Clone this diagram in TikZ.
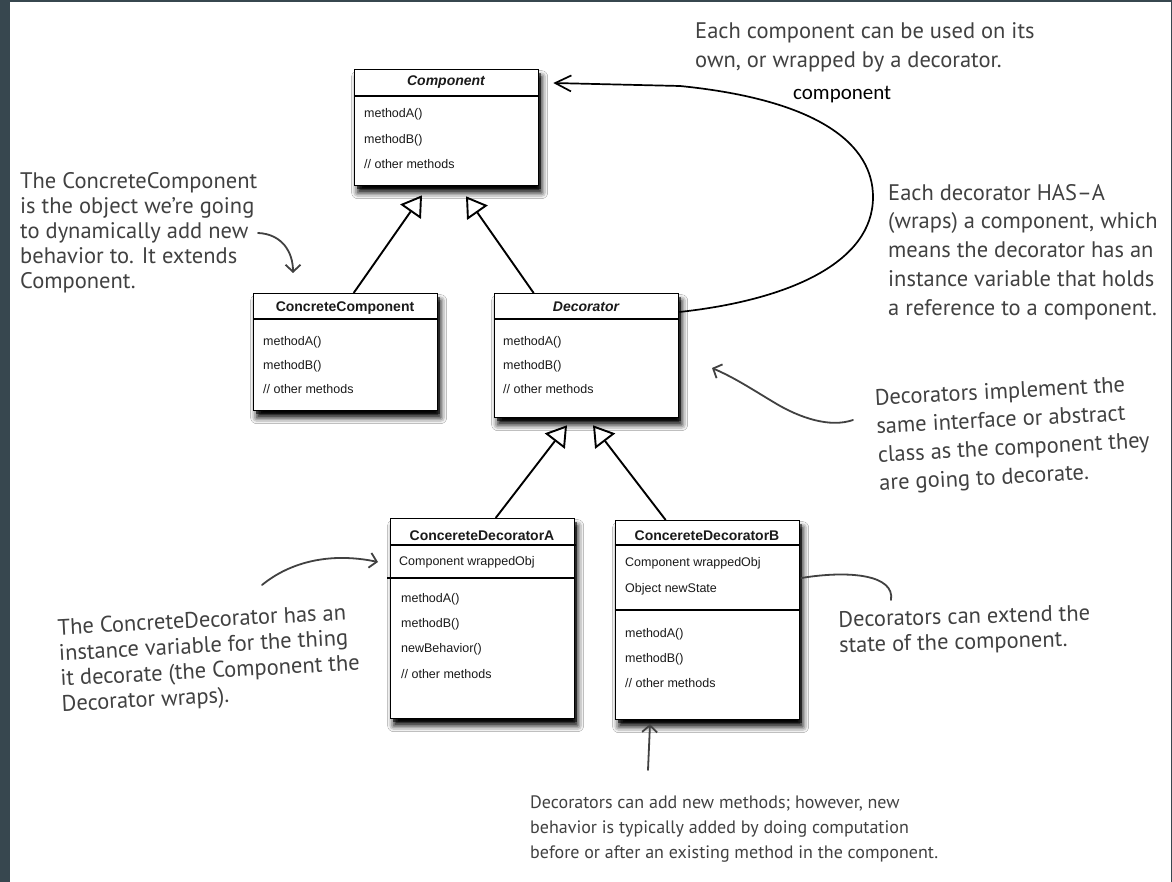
\documentclass[tikz,border=0pt]{standalone}
\usepackage{fontspec}
\newfontfamily\umlfont{Liberation Sans}
\newfontfamily\handfont{PT Sans}
\newfontfamily\rolefont{Carlito}
\usetikzlibrary{arrows.meta,shadows.blur,calc}
\definecolor{frame}{HTML}{37474F}
\definecolor{ink}{HTML}{414141}
\definecolor{umlink}{HTML}{1A1A1A}

\tikzset{
  umlbox/.style={draw=black, line width=1.3pt, fill=white, rectangle,
    anchor=north west, inner sep=0pt,
    blur shadow={shadow xshift=3pt, shadow yshift=-7pt,
      shadow blur radius=6pt, shadow opacity=100},
    preaction={fill=black, opacity=0.55,
      transform canvas={xshift=2pt, yshift=-3.5pt}}},
  umltitle/.style={font=\umlfont\bfseries\fontsize{14}{16}\selectfont,
    inner sep=0pt, anchor=base, text=umlink},
  member/.style={font=\umlfont\fontsize{12.5}{14}\selectfont,
    inner sep=0pt, anchor=base west, text=umlink},
  divider/.style={line width=1.3pt},
  inherits/.style={line width=1.9pt,
    -{Triangle[length=16pt, width=20pt, fill=white, scale=1.25]}},
  hasa/.style={line width=1.7pt, -{Straight Barb[length=16pt, width=16pt]}},
  note/.style={font=\handfont\fontsize{22.5}{#1}\selectfont, text=ink,
    align=left, anchor=north west, inner sep=0pt},
  pointer/.style={draw=ink, line width=1.8pt, line cap=round,
    -{Straight Barb[length=7pt, width=15pt]}},
  tether/.style={draw=ink, line width=1.8pt, line cap=round},
}

\begin{document}
\begin{tikzpicture}[x=1pt, y=-1pt]
  \useasboundingbox (0,0) rectangle (1172,882);
  % page frame
  \fill[frame] (0,0) rectangle (1172,882);
  \fill[white] (10,2) rectangle (1171,882);

  % ---- Component ----
  \node[umlbox, minimum width=184pt, minimum height=116pt] (comp) at (354,69) {};
  \draw[divider] (354,96) -- (539,96);
  \node[umltitle] (compT) at (446,86) {\itshape Component};
  \node[member] (compM1) at (364,118) {methodA()};
  \node[member] (compM2) at (364,144) {methodB()};
  \node[member] (compM3) at (364,169) {// other methods};

  % ---- ConcreteComponent ----
  \node[umlbox, minimum width=184pt, minimum height=117pt] (cc) at (253,293) {};
  \draw[divider] (253,319) -- (438,319);
  \node[umltitle] (ccT) at (345,312) {ConcreteComponent};
  \node[member] (ccM1) at (263,345) {methodA()};
  \node[member] (ccM2) at (263,370) {methodB()};
  \node[member] (ccM3) at (263,393) {// other methods};

  % ---- Decorator ----
  \node[umlbox, minimum width=184pt, minimum height=124pt] (dec) at (494,293) {};
  \draw[divider] (494,319) -- (679,319);
  \node[umltitle] (decT) at (586,312) {\itshape Decorator};
  \node[member] (decM1) at (503,345) {methodA()};
  \node[member] (decM2) at (503,370) {methodB()};
  \node[member] (decM3) at (503,393) {// other methods};

  % ---- ConcereteDecoratorA ----
  \node[umlbox, minimum width=184pt, minimum height=200pt] (decA) at (390,518) {};
  \draw[divider] (390,545) -- (576,545);
  \draw[divider] (387,578) -- (574,578);
  \node[umltitle] (decAT) at (482,540) {ConcereteDecoratorA};
  \node[member] (decAA1) at (399,565) {Component wrappedObj};
  \node[member] (decAM1) at (401,602) {methodA()};
  \node[member] (decAM2) at (401,627) {methodB()};
  \node[member] (decAM3) at (401,652) {newBehavior()};
  \node[member] (decAM4) at (401,678) {// other methods};

  % ---- ConcereteDecoratorB ----
  \node[umlbox, minimum width=184pt, minimum height=199pt] (decB) at (615,520) {};
  \draw[divider] (615,545) -- (800,545);
  \draw[divider] (615,610) -- (800,610);
  \node[umltitle] (decBT) at (707,540) {ConcereteDecoratorB};
  \node[member] (decBA1) at (625,566) {Component wrappedObj};
  \node[member] (decBA2) at (625,592) {Object newState};
  \node[member] (decBM1) at (625,637) {methodA()};
  \node[member] (decBM2) at (625,662) {methodB()};
  \node[member] (decBM3) at (625,687) {// other methods};

  % ---- generalisation arrows ----
  \coordinate (compL) at ($(comp.south west)+(68,9)$);
  \coordinate (compR) at ($(comp.south west)+(112,10)$);
  \coordinate (decL) at ($(dec.south west)+(73,7)$);
  \coordinate (decR) at ($(dec.south west)+(99,7)$);
  \draw[inherits] ($(cc.north)+(8,0)$) -- (compL);
  \draw[inherits] ($(dec.north)+(-53,0)$) -- (compR);
  \draw[inherits] ($(decA.north)+(13,0)$) -- (decL);
  \draw[inherits] ($(decB.north)+(-42,0)$) -- (decR);

  % ---- HAS-A association: Decorator wraps a Component ----
  \coordinate (wrapStart) at ($(dec.north east)+(0,19)$);
  \coordinate (wrapEnd) at ($(comp.north east)+(14,14)$);
  \draw[hasa] (wrapStart) .. controls (790,300) and (873,262) .. (873,197)
    .. controls (873,145) and (820,100) .. (680,86) -- (wrapEnd);
  \node[font=\rolefont\fontsize{21}{24}\selectfont, anchor=base west,
    inner sep=0pt, text=black] (role) at (793,100) {component};

  % ---- notes ----
  \node[note=25] (noteCC) at (20,170.5) {\strut The ConcreteComponent\\
    is the object we’re going\\ to dynamically add new\\
    behavior to. It extends\\ Component.};
  \node[note=29] (noteTop) at (695,17.7) {\strut Each component can be used on its\\
    own, or wrapped by a decorator.};
  \node[note=28.7] (noteHas) at (888,180) {\strut Each decorator HAS–A\\
    (wraps) a component, which\\ means the decorator has an\\
    instance variable that holds\\ a reference to a component.};
  \node[note=28.5, rotate=3] (noteSame) at (874,385) {\strut Decorators implement the\\
    same interface or abstract\\ class as the component they\\
    are going to decorate.};
  \node[note=25.5, rotate=1.5] (noteState) at (838,609) {\strut Decorators can extend the\\
    state of the component.};
  \node[note=25.5, rotate=3] (noteCD) at (57,617) {\strut The ConcreteDecorator has an\\
    instance variable for the thing\\ it decorate (the Component the\\
    Decorator wraps).};
  \node[note=25, font=\handfont\fontsize{18}{25}\selectfont] (noteNew) at (530,790.5)
    {\strut Decorators can add new methods; however, new\\
    behavior is typically added by doing computation\\
    before or after an existing method in the component.};

  % ---- note pointers ----
  \coordinate (pCCs) at (258,233);
  \coordinate (pCCe) at (293,273);
  \draw[pointer] (pCCs) .. controls (282,234) and (293,252) .. (pCCe);

  \coordinate (pSames) at (853,420);
  \coordinate (pSamee) at (712,368);
  \draw[pointer] (pSames) .. controls (830,428) and (800,418) .. (775,403)
    .. controls (750,388) and (735,378) .. (pSamee);

  \coordinate (pCDs) at (262,585);
  \coordinate (pCDe) at (378,562);
  \draw[pointer] (pCDs) .. controls (290,562) and (330,552) .. (pCDe);

  \coordinate (pNews) at (648,770);
  \coordinate (pNewe) at (650,724);
  \draw[pointer] (pNews) -- (pNewe);

  \coordinate (tStart) at ($(decB.north east)+(1,58)$);
  \coordinate (tEnd) at (891,600);
  \draw[tether] (tStart) .. controls (850,570) and (895,575) .. (tEnd);
\end{tikzpicture}
\end{document}
